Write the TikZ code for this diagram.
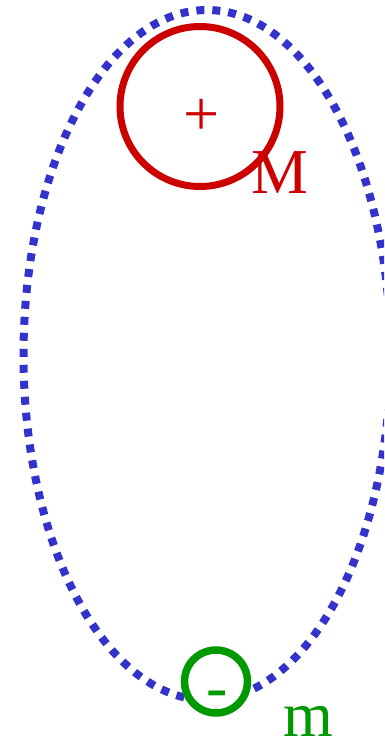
\documentclass[tikz,border=0pt]{standalone}
\usepackage{fontspec}
\setmainfont{Liberation Serif}
\definecolor{orbitblue}{HTML}{3333CC}
\definecolor{bigred}{HTML}{CC0000}
\definecolor{smallgreen}{HTML}{009900}
\begin{document}
\begin{tikzpicture}[x=1pt,y=-1pt,
  orbit/.style={draw=orbitblue,line width=8pt,dash pattern=on 8pt off 8pt},
  body/.style={circle,draw,fill=white,inner sep=0pt},
  lbl/.style={inner sep=0pt,anchor=base west,font=\fontsize{64}{64}\selectfont}]
\useasboundingbox (0,0) rectangle (384,742);
\clip (0,0) rectangle (384,742);
\draw[orbit] (207,355) ellipse [x radius=183.5, y radius=345];
\node[body,draw=bigred,line width=7pt,minimum size=160pt] (M) at (200,106.5) {};
\node[body,draw=smallgreen,line width=7.5pt,minimum size=63pt] (m) at (216,681.5) {};
\node[lbl,text=bigred] (plus) at (183.4,135.3) {+};
\node[lbl,text=bigred] (Mlabel) at (251.5,193.3) {M};
\node[lbl,text=smallgreen] (minus) at (206,708) {-};
\node[lbl,text=smallgreen] (mlabel) at (283,736) {m};
\end{tikzpicture}
\end{document}
